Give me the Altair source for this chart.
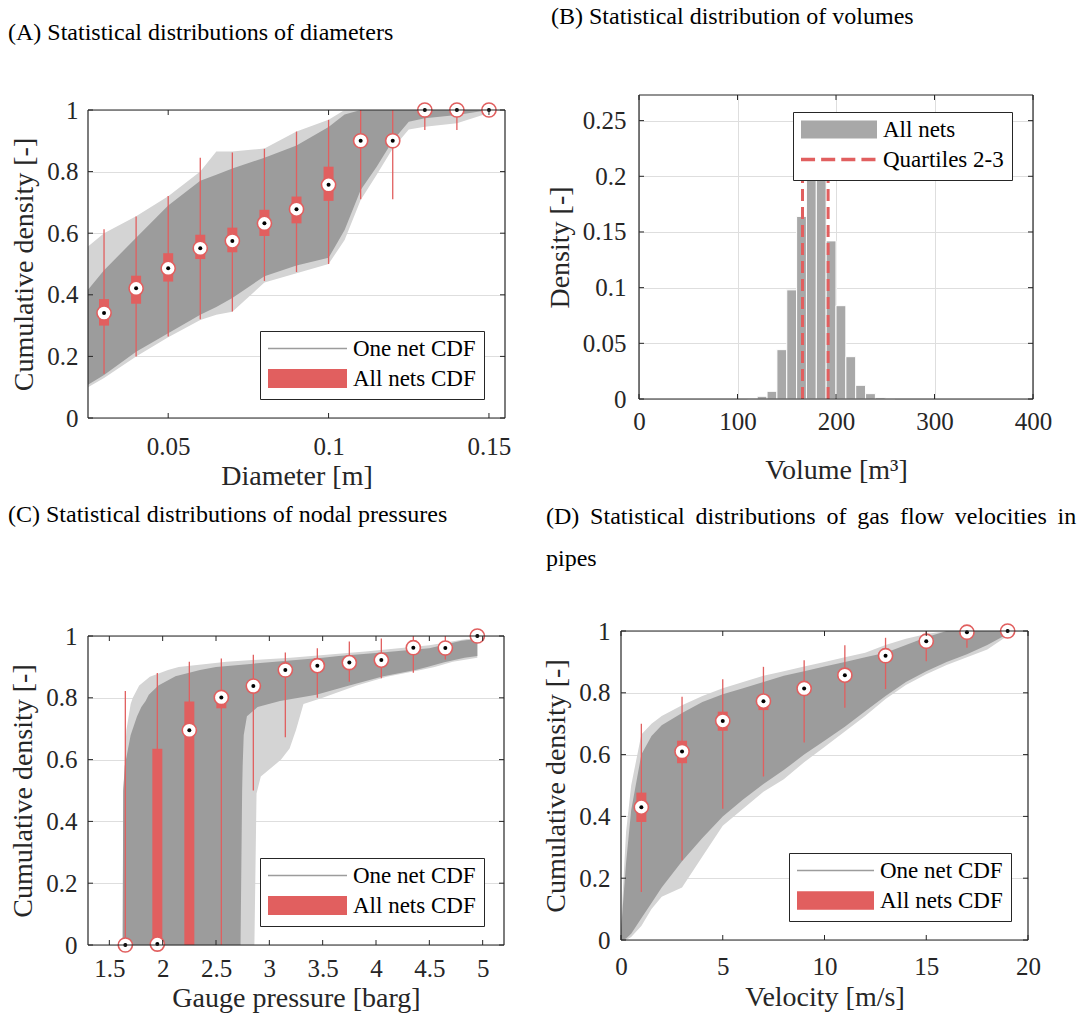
import altair as alt
import pandas as pd

FONT = "Liberation Serif"
INK = "#262626"
RED = "#E15F5F"
CORE = "#9C9C9C"
LIGHT = "#D4D4D4"
GRID = "#DEDEDE"
BARC = "#A8A8A8"

# ---------------- Panel A : diameters ----------------
a_x = [0.025, 0.03, 0.04, 0.05, 0.06, 0.065, 0.07, 0.08, 0.09, 0.10, 0.105, 0.11, 0.115, 0.12, 0.125, 0.13, 0.14, 0.15]
a_core_hi = [0.416, 0.48, 0.585, 0.69, 0.77, 0.79, 0.81, 0.845, 0.885, 0.945, 0.985, 1.0, 1.0, 1.0, 1.0, 1.0, 1.0, 1.0]
a_core_lo = [0.108, 0.14, 0.215, 0.275, 0.335, 0.36, 0.39, 0.46, 0.495, 0.52, 0.61, 0.74, 0.816, 0.90, 0.962, 0.973, 0.984, 1.0]
a_light_hi = [0.557, 0.60, 0.655, 0.72, 0.80, 0.865, 0.865, 0.875, 0.93, 0.968, 1.0, 1.0, 1.0, 1.0, 1.0, 1.0, 1.0, 1.0]
a_light_lo = [0.10, 0.13, 0.20, 0.262, 0.318, 0.335, 0.345, 0.44, 0.47, 0.50, 0.578, 0.708, 0.79, 0.875, 0.937, 0.946, 0.957, 0.99]

a_pos = [0.03, 0.04, 0.05, 0.06, 0.07, 0.08, 0.09, 0.10, 0.11, 0.12, 0.13, 0.14, 0.15]
a_wlo = [0.144, 0.200, 0.265, 0.321, 0.346, 0.445, 0.474, 0.500, 0.710, 0.710, 0.935, 0.935, 1.0]
a_q1 = [0.300, 0.371, 0.443, 0.516, 0.538, 0.591, 0.632, 0.705, 0.890, 0.890, 1.0, 1.0, 1.0]
a_med = [0.341, 0.421, 0.486, 0.551, 0.575, 0.632, 0.678, 0.757, 0.900, 0.900, 1.0, 1.0, 1.0]
a_q3 = [0.386, 0.462, 0.535, 0.595, 0.618, 0.676, 0.719, 0.816, 0.910, 0.910, 1.0, 1.0, 1.0]
a_whi = [0.613, 0.654, 0.721, 0.845, 0.862, 0.874, 0.930, 0.968, 1.0, 1.0, 1.0, 1.0, 1.0]

# ---------------- Panel B : volumes ----------------
b_lo = [110, 120, 130, 140, 150, 160, 170, 180, 190, 200, 210, 220, 230, 240, 250]
b_hi = [120, 130, 140, 150, 160, 170, 180, 190, 200, 210, 220, 230, 240, 250, 260]
b_density = [0.0005, 0.0024, 0.0069, 0.0443, 0.098, 0.164, 0.1976, 0.1976, 0.142, 0.0838, 0.038, 0.0123, 0.0048, 0.0012, 0.0004]
b_quartiles = [166, 192]
b_quart_top = 0.2

# ---------------- Panel C : nodal pressures ----------------
c_core_y = [0.0, 0.5, 0.58, 0.68, 0.74, 0.77, 0.79, 0.81, 0.84, 0.87, 0.89, 0.90, 0.915, 0.93, 0.935, 0.945, 0.96, 0.985, 0.99]
c_core_left = [1.625, 1.63, 1.645, 1.70, 1.76, 1.80, 1.84, 1.87, 1.96, 2.12, 2.35, 2.5, 3.0, 3.5, 3.65, 4.0, 4.5, 4.8, 4.95]
c_core_right = [2.73, 2.745, 2.75, 2.76, 2.79, 2.89, 3.10, 3.44, 3.75, 4.07, 4.37, 4.48, 4.64, 4.83, 4.95, 4.95, 4.95, 4.95, 4.95]
c_light_y = [0.0, 0.49, 0.545, 0.60, 0.636, 0.696, 0.78, 0.80, 0.84, 0.868, 0.89, 0.90, 0.917, 0.93, 0.95, 0.97, 0.99]
c_light_left = [1.625, 1.63, 1.64, 1.645, 1.65, 1.66, 1.70, 1.72, 1.78, 1.88, 2.05, 2.15, 2.6, 3.2, 3.9, 4.5, 4.85]
c_light_right = [2.86, 2.88, 2.92, 3.11, 3.19, 3.25, 3.32, 3.5, 3.82, 4.1, 4.42, 4.55, 4.72, 4.95, 4.95, 4.95, 4.95]

c_pos = [1.65, 1.95, 2.25, 2.55, 2.85, 3.15, 3.45, 3.75, 4.05, 4.35, 4.65, 4.95]
c_wlo = [0.0, 0.0, 0.0, 0.0, 0.50, 0.672, 0.80, 0.852, 0.863, 0.881, 0.924, 1.0]
c_q1 = [0.0, 0.0, 0.0, 0.766, 0.83, 0.885, 0.90, 0.91, 0.918, 0.958, 0.958, 1.0]
c_med = [0.0, 0.003, 0.695, 0.801, 0.838, 0.890, 0.904, 0.914, 0.922, 0.962, 0.961, 1.0]
c_q3 = [0.0, 0.635, 0.788, 0.805, 0.845, 0.895, 0.908, 0.918, 0.926, 0.966, 0.964, 1.0]
c_whi = [0.822, 0.880, 0.917, 0.927, 0.939, 0.947, 0.960, 0.982, 0.992, 1.0, 1.0, 1.0]

# ---------------- Panel D : velocities ----------------
d_x = [0, 0.25, 0.5, 1, 1.5, 2, 3, 4, 5, 6, 7, 8, 9, 10, 11, 12, 13, 14, 15, 16, 17, 18, 19]
d_core_hi = [0.03, 0.25, 0.42, 0.60, 0.66, 0.695, 0.735, 0.77, 0.795, 0.815, 0.835, 0.855, 0.87, 0.885, 0.90, 0.915, 0.93, 0.955, 0.98, 1.0, 1.0, 1.0, 1.0]
d_core_lo = [0.0, 0.005, 0.02, 0.07, 0.12, 0.17, 0.255, 0.33, 0.40, 0.455, 0.505, 0.55, 0.60, 0.645, 0.69, 0.74, 0.79, 0.835, 0.87, 0.90, 0.925, 0.955, 0.99]
d_light_hi = [0.05, 0.35, 0.50, 0.665, 0.70, 0.725, 0.76, 0.79, 0.815, 0.835, 0.855, 0.87, 0.885, 0.90, 0.915, 0.93, 0.955, 0.975, 0.99, 1.0, 1.0, 1.0, 1.0]
d_light_lo = [0.0, 0.0, 0.01, 0.045, 0.10, 0.14, 0.17, 0.27, 0.37, 0.425, 0.48, 0.52, 0.575, 0.625, 0.675, 0.725, 0.78, 0.825, 0.86, 0.89, 0.915, 0.94, 0.985]

d_pos = [1, 3, 5, 7, 9, 11, 13, 15, 17, 19]
d_wlo = [0.155, 0.258, 0.425, 0.529, 0.639, 0.752, 0.812, 0.902, 0.946, 1.0]
d_q1 = [0.382, 0.572, 0.677, 0.744, 0.800, 0.845, 0.910, 0.960, 0.995, 1.0]
d_med = [0.430, 0.610, 0.709, 0.773, 0.814, 0.857, 0.920, 0.967, 0.996, 1.0]
d_q3 = [0.477, 0.645, 0.739, 0.792, 0.828, 0.869, 0.930, 0.975, 1.0, 1.0]
d_whi = [0.700, 0.787, 0.844, 0.884, 0.905, 0.954, 0.978, 1.0, 1.0, 1.0]

cdf_names = ["One net CDF", "All nets CDF"]
b_names = ["All nets", "Quartiles 2-3"]
y_ticks = [0, 0.2, 0.4, 0.6, 0.8, 1]


def axis(title, values, grid, lab_pad, tit_pad):
    return alt.Axis(title=title, values=values, format="~r", grid=grid, gridColor=GRID,
                    gridWidth=1, ticks=False, tickSize=0, domain=False, labelFont=FONT,
                    labelFontSize=25, labelColor=INK, labelPadding=lab_pad, labelFlush=False,
                    labelOverlap=False, titleFont=FONT, titleFontSize=28, titleFontWeight="normal",
                    titleColor=INK, titlePadding=tit_pad)


def frame_and_ticks(xs, ys, xax, yax, xdom, ydom, xticks, yticks, W, H, pad, L=5):
    """Axis box plus inward ticks on all four sides (MATLAB style)."""
    tx = alt.Chart(pd.DataFrame({"t": xticks}))
    ty = alt.Chart(pd.DataFrame({"t": yticks}))
    fx = alt.Chart(pd.DataFrame({"t": xdom}))
    fy = alt.Chart(pd.DataFrame({"t": ydom}))
    xe = alt.X("t:Q", scale=xs, axis=xax)
    ye = alt.Y("t:Q", scale=ys, axis=yax)
    rule = dict(color=INK, strokeWidth=1)
    top, bot = pad, pad + H
    return [
        tx.mark_rule(**rule).encode(x=xe, y=alt.value(bot), y2=alt.value(bot - L)),
        tx.mark_rule(**rule).encode(x=xe, y=alt.value(top), y2=alt.value(top + L)),
        ty.mark_rule(**rule).encode(y=ye, x=alt.value(0), x2=alt.value(L)),
        ty.mark_rule(**rule).encode(y=ye, x=alt.value(W - L), x2=alt.value(W)),
        fx.mark_rule(color=INK, strokeWidth=1.2).encode(x=xe, y=alt.value(top), y2=alt.value(bot)),
        fy.mark_rule(color=INK, strokeWidth=1.2).encode(y=ye, x=alt.value(0), x2=alt.value(W)),
    ]


def legend_layer(field, names, colors, paths, xs, ys, xax, yax, xout, lx, ly, sym_w):
    leg = alt.Legend(title=None, orient="none", legendX=lx, legendY=ly, direction="vertical",
                     symbolSize=sym_w * sym_w, clipHeight=19, rowPadding=6, padding=8,
                     labelOffset=6, labelFont=FONT, labelFontSize=23, labelColor="black",
                     labelLimit=500, strokeColor=INK, fillColor="white", symbolStrokeWidth=0,
                     symbolOpacity=1, cornerRadius=0)
    df = pd.DataFrame({field: names, "x": [xout] * len(names), "y": [0.5] * len(names)})
    return alt.Chart(df).mark_point(filled=True, opacity=1, clip=True, size=10).encode(
        x=alt.X("x:Q", scale=xs, axis=xax),
        y=alt.Y("y:Q", scale=ys, axis=yax),
        color=alt.Color(f"{field}:N", scale=alt.Scale(domain=names, range=colors), legend=leg),
        shape=alt.Shape(f"{field}:N", scale=alt.Scale(domain=names, range=paths), legend=leg),
    )


def box_layers(pos, wlo, q1, med, q3, whi, xs, ys, xax, yax):
    df = pd.DataFrame({"p": pos, "wlo": wlo, "q1": q1, "med": med, "q3": q3, "whi": whi})
    base = alt.Chart(df)
    xe = alt.X("p:Q", scale=xs, axis=xax)
    return [
        base.mark_rule(color=RED, strokeWidth=1.3).encode(
            x=xe, y=alt.Y("wlo:Q", scale=ys, axis=yax), y2="whi:Q"),
        base.mark_rule(color=RED, strokeWidth=10, strokeCap="butt").encode(
            x=xe, y=alt.Y("q1:Q", scale=ys, axis=yax), y2="q3:Q"),
        base.mark_circle(size=200, fill="white", stroke=RED, strokeWidth=1.6, opacity=1).encode(
            x=xe, y=alt.Y("med:Q", scale=ys, axis=yax)),
        base.mark_circle(size=16, color="black", opacity=1).encode(
            x=xe, y=alt.Y("med:Q", scale=ys, axis=yax)),
    ]


thin = "M-1,-0.022L1,-0.022L1,0.022L-1,0.022Z"
thick = "M-1,-0.24L1,-0.24L1,0.24L-1,0.24Z"
dashed = ("M-1,-0.045L-0.63,-0.045L-0.63,0.045L-1,0.045Z"
          "M-0.47,-0.045L-0.1,-0.045L-0.1,0.045L-0.47,0.045Z"
          "M0.06,-0.045L0.43,-0.045L0.43,0.045L0.06,0.045Z"
          "M0.59,-0.045L0.96,-0.045L0.96,0.045L0.59,0.045Z")
b_rect = "M-1,-0.237L1,-0.237L1,0.237L-1,0.237Z"


def title(text, dx, offset, lh=24):
    return alt.TitleParams(text=text, anchor="start", frame="group", dx=dx, offset=offset,
                           baseline="bottom", font=FONT, fontSize=24, fontWeight="normal",
                           color="black", lineHeight=lh)


def indep(c):
    return c.resolve_scale(color="independent", shape="independent").resolve_legend(
        color="independent", shape="independent")


# ---------- Panel A ----------
WA, HA, PA = 417, 308, 15
xdA, ydA = [0.025, 0.155], [0, 1]
xsA = alt.Scale(domain=xdA, nice=False, zero=False)
ysA = alt.Scale(domain=ydA, nice=False, range=[HA + PA, PA])
xaA = axis("Diameter [m]", [0.05, 0.1, 0.15], False, 16, 3)
yaA = axis("Cumulative density [-]", y_ticks, True, 10, 8)
dfA = pd.DataFrame({"x": a_x, "chi": a_core_hi, "clo": a_core_lo, "lhi": a_light_hi, "llo": a_light_lo})
baseA = alt.Chart(dfA)
panelA = alt.layer(
    baseA.mark_area(color=LIGHT, opacity=1).encode(
        x=alt.X("x:Q", scale=xsA, axis=xaA), y=alt.Y("llo:Q", scale=ysA, axis=yaA), y2="lhi:Q"),
    baseA.mark_area(color=CORE, opacity=1).encode(
        x=alt.X("x:Q", scale=xsA, axis=xaA), y=alt.Y("clo:Q", scale=ysA, axis=yaA), y2="chi:Q"),
    *box_layers(a_pos, a_wlo, a_q1, a_med, a_q3, a_whi, xsA, ysA, xaA, yaA),
    *frame_and_ticks(xsA, ysA, xaA, yaA, xdA, ydA, [0.05, 0.1, 0.15], y_ticks, WA, HA, PA),
    legend_layer("ka", cdf_names, [CORE, RED], [thin, thick], xsA, ysA, xaA, yaA, 0.0, 172, 236, 79),
).properties(width=WA, height=HA + PA,
             title=title("(A) Statistical distributions of diameters", -80, 26))

# ---------- Panel B ----------
WB, HB, PB = 394, 304, 0
xdB, ydB = [0, 400], [0, 0.273]
xsB = alt.Scale(domain=xdB, nice=False)
ysB = alt.Scale(domain=ydB, nice=False, range=[HB + PB, PB])
yt_B = [0, 0.05, 0.1, 0.15, 0.2, 0.25]
xt_B = [0, 100, 200, 300, 400]
xaB = axis("Volume [m³]", xt_B, True, 10, 22)
yaB = axis("Density [-]", yt_B, True, 13, 8)
dfB = pd.DataFrame({"lo": b_lo, "hi": b_hi, "d": b_density, "z": [0.0] * len(b_lo)})
dfQ = pd.DataFrame({"q": b_quartiles, "top": [b_quart_top] * 2, "z": [0.0, 0.0]})
panelB = alt.layer(
    alt.Chart(dfB).mark_rect(color=BARC, stroke="white", strokeWidth=1).encode(
        x=alt.X("lo:Q", scale=xsB, axis=xaB), x2="hi:Q",
        y=alt.Y("d:Q", scale=ysB, axis=yaB), y2="z:Q"),
    alt.Chart(dfQ).mark_rule(color=RED, strokeWidth=3, strokeDash=[12, 6]).encode(
        x=alt.X("q:Q", scale=xsB, axis=xaB), y=alt.Y("z:Q", scale=ysB, axis=yaB), y2="top:Q"),
    *frame_and_ticks(xsB, ysB, xaB, yaB, xdB, ydB, xt_B, yt_B, WB, HB, PB),
    legend_layer("kb", b_names, [BARC, RED], [b_rect, dashed], xsB, ysB, xaB, yaB, -100, 154, 17, 76),
).properties(width=WB, height=HB + PB,
             title=title("(B) Statistical distribution of volumes", -88, 41))

# ---------- Panel C ----------
WC, HC, PC = 416, 309, 5
xdC, ydC = [1.3, 5.2], [0, 1]
xsC = alt.Scale(domain=xdC, nice=False, zero=False)
ysC = alt.Scale(domain=ydC, nice=False, range=[HC + PC, PC])
xt_C = [1.5, 2, 2.5, 3, 3.5, 4, 4.5, 5]
xaC = axis("Gauge pressure [barg]", xt_C, False, 11, 3)
yaC = axis("Cumulative density [-]", y_ticks, True, 11, 8)
dfCl = pd.DataFrame({"y": c_light_y, "l": c_light_left, "r": c_light_right})
dfCc = pd.DataFrame({"y": c_core_y, "l": c_core_left, "r": c_core_right})
panelC = alt.layer(
    alt.Chart(dfCl).mark_area(color=LIGHT, opacity=1, orient="horizontal").encode(
        y=alt.Y("y:Q", scale=ysC, axis=yaC), x=alt.X("l:Q", scale=xsC, axis=xaC), x2="r:Q"),
    alt.Chart(dfCc).mark_area(color=CORE, opacity=1, orient="horizontal").encode(
        y=alt.Y("y:Q", scale=ysC, axis=yaC), x=alt.X("l:Q", scale=xsC, axis=xaC), x2="r:Q"),
    *box_layers(c_pos, c_wlo, c_q1, c_med, c_q3, c_whi, xsC, ysC, xaC, yaC),
    *frame_and_ticks(xsC, ysC, xaC, yaC, xdC, ydC, xt_C, y_ticks, WC, HC, PC),
    legend_layer("kc", cdf_names, [CORE, RED], [thin, thick], xsC, ysC, xaC, yaC, 0.0, 172, 227, 79),
).properties(width=WC, height=HC + PC,
             title=title("(C) Statistical distributions of nodal pressures", -80, 73))

# ---------- Panel D ----------
WD, HD, PD = 407, 309, 0
xdD, ydD = [0, 20], [0, 1]
xsD = alt.Scale(domain=xdD, nice=False)
ysD = alt.Scale(domain=ydD, nice=False, range=[HD + PD, PD])
xt_D = [0, 5, 10, 15, 20]
xaD = axis("Velocity [m/s]", xt_D, False, 14, 4)
yaD = axis("Cumulative density [-]", y_ticks, True, 11, 8)
dfD = pd.DataFrame({"x": d_x, "chi": d_core_hi, "clo": d_core_lo, "lhi": d_light_hi, "llo": d_light_lo})
baseD = alt.Chart(dfD)
d_title_1 = "(D) Statistical distributions of gas flow velocities in".replace(" ", " \u2009")
panelD = alt.layer(
    baseD.mark_area(color=LIGHT, opacity=1).encode(
        x=alt.X("x:Q", scale=xsD, axis=xaD), y=alt.Y("llo:Q", scale=ysD, axis=yaD), y2="lhi:Q"),
    baseD.mark_area(color=CORE, opacity=1).encode(
        x=alt.X("x:Q", scale=xsD, axis=xaD), y=alt.Y("clo:Q", scale=ysD, axis=yaD), y2="chi:Q"),
    *box_layers(d_pos, d_wlo, d_q1, d_med, d_q3, d_whi, xsD, ysD, xaD, yaD),
    *frame_and_ticks(xsD, ysD, xaD, yaD, xdD, ydD, xt_D, y_ticks, WD, HD, PD),
    legend_layer("kd", cdf_names, [CORE, RED], [thin, thick], xsD, ysD, xaD, yaD, -10, 168, 222, 77),
).properties(width=WD, height=HD + PD,
             title=title([d_title_1, "pipes"], -75, 24, 42))

row1 = indep(alt.hconcat(panelA, panelB, spacing=35))
row2 = indep(alt.hconcat(panelC, panelD, spacing=37))
chart = indep(alt.vconcat(row1, row2, spacing=13)).properties(
    padding={"left": 8, "top": 5, "right": 5, "bottom": 5}).configure(
    background="white").configure_view(strokeWidth=0)

chart.save("out.html", embed_options={"renderer": "svg", "actions": False})
